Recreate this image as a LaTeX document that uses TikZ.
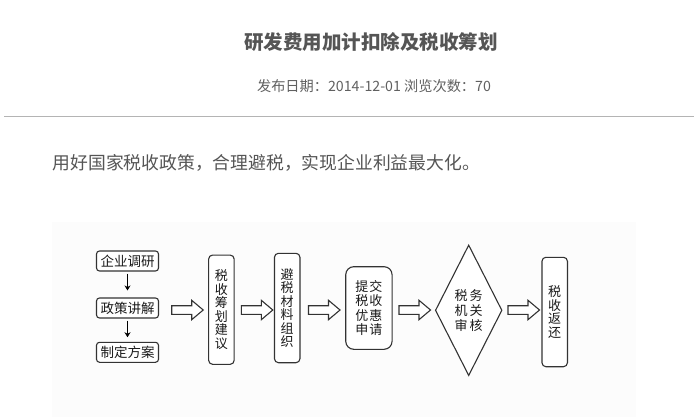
\documentclass[tikz,border=0pt]{standalone}
\usepackage{fontspec}
\setmainfont{Noto Sans CJK SC}
\usetikzlibrary{shapes.geometric,arrows.meta,calc}
\definecolor{titlegray}{HTML}{555555}
\definecolor{dategray}{HTML}{606060}
\definecolor{bodygray}{HTML}{555555}
\definecolor{rulegray}{HTML}{B4B4B4}
\definecolor{panelgray}{HTML}{FCFCFC}
\definecolor{strokegray}{HTML}{333333}
\definecolor{ink}{HTML}{1A1A1A}
\tikzset{
  titletext/.style={font=\fontsize{19.5}{20}\selectfont\bfseries, text=titlegray, inner sep=0},
  datetext/.style={font=\fontsize{14.2}{15}\selectfont, text=dategray, inner sep=0},
  bodytext/.style={font=\fontsize{17.8}{18}\selectfont, text=bodygray, inner sep=0},
  smallbox/.style={draw=strokegray, line width=1.1pt, rounded corners=3pt, fill=white,
    minimum width=62pt, minimum height=20pt, inner sep=0,
    font=\fontsize{13.5}{13.5}\selectfont, text=ink},
  tallbox/.style={draw=strokegray, line width=1.1pt, rounded corners=4pt, fill=white,
    minimum width=25.5pt, inner sep=0, align=center,
    font=\fontsize{13}{13.5}\selectfont, text=ink},
  applybox/.style={draw=strokegray, line width=1.1pt, rounded corners=8pt, fill=white,
    minimum width=46.3pt, minimum height=82.6pt, inner sep=0, align=center,
    font=\fontsize{13}{14.5}\selectfont, text=ink},
  decision/.style={diamond, draw=strokegray, line width=1.1pt, fill=white,
    minimum width=66.7pt, minimum height=130.7pt, inner sep=0},
  decisiontext/.style={inner sep=0, align=center,
    font=\fontsize{13}{15}\selectfont, text=ink},
  downarrow/.style={draw=black, line width=1pt, -{Stealth[length=5pt,width=6pt]}},
  arrowline/.style={draw=strokegray, line width=1.1pt, fill=white, line join=miter},
  harrow/.pic={\path[arrowline] (0,-4.3) -- (20,-4.3) -- (20,-9.7) -- (31.5,0)
     -- (20,9.7) -- (20,4.3) -- (0,4.3) -- cycle;}
}
\begin{document}
\begin{tikzpicture}[x=1pt,y=-1pt]
\useasboundingbox (0,0) rectangle (694,417);
\fill[white] (0,0) rectangle (694,417);
% header
\node[titletext] (title) at (371,42.5) {研发费用加计扣除及税收筹划};
\node[datetext] (date) at (374,86) {发布日期：2014-12-01 浏览次数：70};
\draw[rulegray, line width=1.3pt] (4,116.7) -- (694,116.7);
\node[bodytext, anchor=west] (intro) at (52.5,163) {用好国家税收政策，合理避税，实现企业利益最大化。};
% diagram panel
\fill[panelgray] (52,222) rectangle (636,417);
% left column
\node[smallbox] (s1) at (127.5,261) {企业调研};
\node[smallbox] (s2) at (127.5,308) {政策讲解};
\node[smallbox] (s3) at (127.5,352.3) {制定方案};
\draw[downarrow, shorten <=2pt, shorten >=7pt] (s1.south) -- (s2.north);
\draw[downarrow, shorten <=2pt, shorten >=4.5pt] (s2.south) -- (s3.north);
% main flow
\node[tallbox, minimum height=109.3pt] (plan) at (221.4,309.7) {税\\收\\筹\\划\\建\\议};
\node[tallbox, minimum height=109.4pt] (mat) at (287.2,308) {避\\税\\材\\料\\组\\织};
\node[applybox] (apply) at (368.9,308) {提\hspace{1pt}交\\税\hspace{1pt}收\\优\hspace{1pt}惠\\申\hspace{1pt}请};
\node[decision] (audit) at (468.7,310.3) {};
\node[decisiontext] (audittext) at (audit.center) {税\hspace{2pt}务\\机\hspace{2pt}关\\审\hspace{2pt}核};
\node[tallbox, minimum height=109.4pt] (ret) at (554.7,312) {税\\收\\返\\还};
% hollow arrows
\pic at (171.7,310) {harrow};
\pic at (241.3,310) {harrow};
\pic at (308.5,310) {harrow};
\pic at (399,310) {harrow};
\pic at (508,310) {harrow};
\end{tikzpicture}
\end{document}
